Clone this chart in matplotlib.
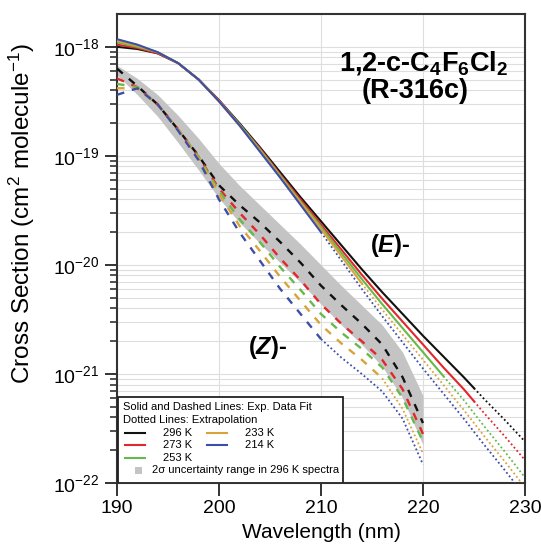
import numpy as np
import matplotlib
matplotlib.use("Agg")
import matplotlib.pyplot as plt
from matplotlib.lines import Line2D
from matplotlib.patches import Rectangle
from matplotlib.ticker import NullFormatter, FixedLocator

plt.rcParams['font.family'] = ['Liberation Sans', 'DejaVu Sans']
plt.rcParams['mathtext.fontset'] = 'custom'
plt.rcParams['mathtext.rm'] = 'Liberation Sans'
plt.rcParams['mathtext.it'] = 'Liberation Sans:italic'
plt.rcParams['mathtext.bf'] = 'Liberation Sans:bold'
plt.rcParams['mathtext.bfit'] = 'Liberation Sans:bold:italic'

# temperatures and colours
temps = ["296 K", "273 K", "253 K", "233 K", "214 K"]
colors = ["#111111", "#e3262b", "#66b94a", "#d9a33a", "#3d4ea8"]

# (E)- isomer, log10 cross section (cm2 molecule-1)
wl_e = [190, 192, 194, 196, 198, 200, 202, 204, 206, 208, 210, 212, 214, 216, 218, 220, 222, 224, 225, 226, 228, 230]
e_296 = [-18.00, -18.02, -18.06, -18.15, -18.30, -18.49, -18.70, -18.92, -19.15, -19.38, -19.60, -19.82, -20.04, -20.25, -20.45, -20.65, -20.84, -21.03, -21.13, -21.23, -21.42, -21.62]
e_273 = [-17.98, -18.01, -18.06, -18.15, -18.30, -18.49, -18.71, -18.93, -19.17, -19.40, -19.63, -19.86, -20.09, -20.31, -20.52, -20.73, -20.94, -21.14, -21.25, -21.36, -21.57, -21.79]
e_253 = [-17.96, -18.00, -18.05, -18.15, -18.30, -18.50, -18.71, -18.94, -19.18, -19.42, -19.65, -19.89, -20.13, -20.36, -20.58, -20.80, -21.02, -21.24, -21.36, -21.48, -21.71, -21.95]
e_233 = [-17.945, -17.99, -18.05, -18.15, -18.30, -18.50, -18.72, -18.95, -19.19, -19.43, -19.67, -19.92, -20.17, -20.41, -20.64, -20.87, -21.10, -21.33, -21.45, -21.57, -21.80, -22.04]
e_214 = [-17.93, -17.98, -18.05, -18.15, -18.30, -18.50, -18.72, -18.96, -19.20, -19.45, -19.70, -19.96, -20.22, -20.47, -20.71, -20.95, -21.18, -21.41, -21.53, -21.65, -21.88, -22.12]
e_fit_end = [225, 225, 222, 214, 210]

# (Z)- isomer
wl_z = [190, 192, 194, 196, 198, 200, 202, 204, 206, 208, 210, 212, 214, 216, 218, 220]
z_296 = [-18.20, -18.36, -18.53, -18.76, -19.00, -19.27, -19.45, -19.61, -19.79, -19.98, -20.19, -20.37, -20.54, -20.73, -21.03, -21.45]
z_273 = [-18.29, -18.37, -18.53, -18.76, -19.01, -19.30, -19.52, -19.72, -19.94, -20.14, -20.36, -20.54, -20.70, -20.87, -21.14, -21.55]
z_253 = [-18.34, -18.37, -18.53, -18.76, -19.01, -19.32, -19.58, -19.79, -20.02, -20.23, -20.45, -20.62, -20.77, -20.94, -21.22, -21.62]
z_233 = [-18.38, -18.38, -18.53, -18.76, -19.02, -19.35, -19.64, -19.87, -20.11, -20.33, -20.55, -20.72, -20.87, -21.04, -21.32, -21.73]
z_214 = [-18.44, -18.38, -18.53, -18.77, -19.04, -19.40, -19.70, -19.96, -20.22, -20.45, -20.68, -20.85, -21.00, -21.16, -21.41, -21.83]
z_fit_end = [220, 220, 220, 216, 210]

# 2 sigma range of the 296 K (Z) spectrum
band_hi = [-18.17, -18.29, -18.44, -18.63, -18.84, -19.07, -19.27, -19.45, -19.63, -19.81, -20.00, -20.19, -20.37, -20.55, -20.80, -21.20]
band_lo = [-18.26, -18.44, -18.64, -18.88, -19.13, -19.39, -19.61, -19.80, -19.98, -20.16, -20.36, -20.55, -20.73, -20.93, -21.22, -21.65]

# axis ticks
x_ticks = [190, 200, 210, 220, 230]
y_decades = [-22, -21, -20, -19, -18]

e_data = [e_296, e_273, e_253, e_233, e_214]
z_data = [z_296, z_273, z_253, z_233, z_214]

fig = plt.figure(figsize=(5.41, 5.49), dpi=100)
ax = fig.add_axes([0.2163, 0.1202, 0.7541, 0.8543])

ax.fill_between(wl_z, 10 ** np.array(band_lo), 10 ** np.array(band_hi),
                color="#c4c4c4", lw=0, zorder=2)

dots = (0, (1, 1.4))
wl_e_a = np.array(wl_e)
wl_z_a = np.array(wl_z)
for vals, end, c in zip(e_data, e_fit_end, colors):
    y = 10 ** np.array(vals)
    m = wl_e_a <= end
    ax.plot(wl_e_a[m], y[m], color=c, lw=1.5, zorder=4)
    m2 = wl_e_a >= end
    ax.plot(wl_e_a[m2], y[m2], color=c, lw=1.3, ls=dots, zorder=3)

for vals, end, c in zip(z_data, z_fit_end, colors):
    y = 10 ** np.array(vals)
    m = wl_z_a <= end
    ax.plot(wl_z_a[m], y[m], color=c, lw=1.7, ls=(0, (3.2, 3.4)), zorder=4)
    if end < 220:
        m2 = wl_z_a >= end
        ax.plot(wl_z_a[m2], y[m2], color=c, lw=1.3, ls=dots, zorder=3)

ax.set_yscale("log")
ax.set_xlim(190, 230)
ax.set_ylim(1e-22, 2.0e-18)
ax.set_xticks(x_ticks)
ax.set_yticks([10.0 ** d for d in y_decades])
ax.set_yticklabels([r"$10^{%d}$" % d for d in y_decades])
minor = [k * 10.0 ** d for d in y_decades for k in range(2, 10) if k * 10.0 ** d < 2.0e-18]
ax.yaxis.set_minor_locator(FixedLocator(minor))
ax.yaxis.set_minor_formatter(NullFormatter())
ax.grid(True, which="both", axis="y", color="#dedede", lw=0.8, zorder=0)
ax.grid(True, which="major", axis="x", color="#dedede", lw=0.8, zorder=0)
ax.set_axisbelow(True)

ax.tick_params(which="major", direction="out", length=9, width=1.4, labelsize=14, color="#333333")
ax.tick_params(which="minor", direction="out", length=5, width=1.2, color="#333333")
ax.tick_params(axis="x", which="minor", bottom=False)
for s in ax.spines.values():
    s.set_linewidth(1.5)
    s.set_color("#333333")

ax.set_xlabel("Wavelength (nm)", fontsize=15)
ax.set_ylabel("Cross Section (cm$^2$ molecule$^{-1}$)", fontsize=17.5)
ax.yaxis.set_label_coords(-0.195, 0.575)

ax.text(0.752, 0.895, r"1,2-c-C$_\mathbf{4}$F$_\mathbf{6}$Cl$_\mathbf{2}$", transform=ax.transAxes,
        ha="center", va="center", fontsize=19.5, fontweight="bold")
ax.text(0.73, 0.836, "(R-316c)", transform=ax.transAxes,
        ha="center", va="center", fontsize=19.5, fontweight="bold")
ax.text(0.669, 0.506, r"($\mathbfit{E}$)-", transform=ax.transAxes,
        ha="center", va="center", fontsize=17, fontweight="bold")
ax.text(0.370, 0.289, r"($\mathbfit{Z}$)-", transform=ax.transAxes,
        ha="center", va="center", fontsize=17, fontweight="bold")

# legend box drawn by hand
tr = ax.transAxes
ax.add_patch(Rectangle((0.0025, 0.0), 0.551, 0.183, transform=tr, facecolor="white",
                       edgecolor="#222222", lw=1.3, zorder=6))
fs = 8
ax.text(0.015, 0.162, "Solid and Dashed Lines: Exp. Data Fit", transform=tr, fontsize=fs, va="center", zorder=7)
ax.text(0.015, 0.134, "Dotted Lines: Extrapolation", transform=tr, fontsize=fs, va="center", zorder=7)
rows = [0.107, 0.081, 0.053]
pos = [(0, rows[0]), (0, rows[1]), (0, rows[2]), (1, rows[0]), (1, rows[1])]
for (col, yy), lab, c in zip(pos, temps, colors):
    x0 = 0.020 if col == 0 else 0.221
    ax.add_line(Line2D([x0, x0 + 0.049], [yy, yy], transform=tr, color=c, lw=1.5, zorder=7))
    ax.text(x0 + 0.093, yy, lab, transform=tr, fontsize=fs, va="center", zorder=7)
ax.add_patch(Rectangle((0.045, 0.019), 0.017, 0.016, transform=tr, facecolor="#c4c4c4",
                       edgecolor="none", zorder=7))
ax.text(0.086, 0.028, "2\u03c3 uncertainty range in 296 K spectra", transform=tr, fontsize=fs,
        va="center", zorder=7)

fig.savefig("out.png", dpi=100)
